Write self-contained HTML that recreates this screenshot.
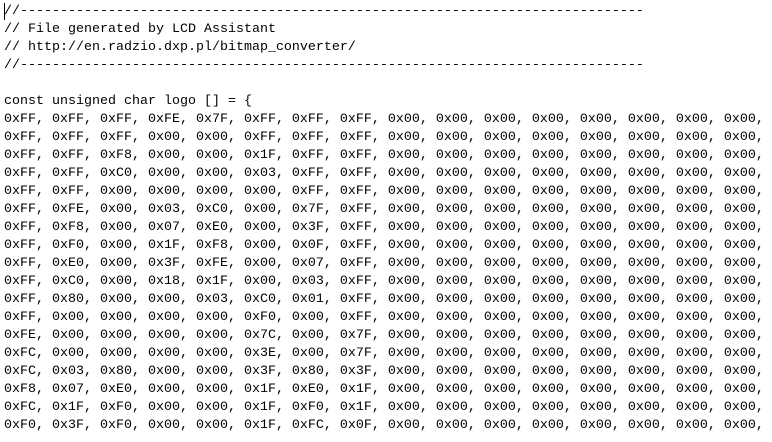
<!DOCTYPE html>
<html><head><meta charset="utf-8"><style>
html,body{margin:0;padding:0;background:#fff;width:772px;height:442px;overflow:hidden}
pre{margin:0;position:absolute;left:4px;top:3px;font-family:"Liberation Mono",monospace;font-size:13.33px;line-height:18px;color:#000}
.cur{position:absolute;left:4px;top:3px;width:1px;height:17px;background:#000}
</style></head><body>
<div class="cur"></div>
<pre>//------------------------------------------------------------------------------
// File generated by LCD Assistant
// http://en.radzio.dxp.pl/bitmap_converter/
//------------------------------------------------------------------------------

const unsigned char logo [] = {
0xFF, 0xFF, 0xFF, 0xFE, 0x7F, 0xFF, 0xFF, 0xFF, 0x00, 0x00, 0x00, 0x00, 0x00, 0x00, 0x00, 0x00,
0xFF, 0xFF, 0xFF, 0x00, 0x00, 0xFF, 0xFF, 0xFF, 0x00, 0x00, 0x00, 0x00, 0x00, 0x00, 0x00, 0x00,
0xFF, 0xFF, 0xF8, 0x00, 0x00, 0x1F, 0xFF, 0xFF, 0x00, 0x00, 0x00, 0x00, 0x00, 0x00, 0x00, 0x00,
0xFF, 0xFF, 0xC0, 0x00, 0x00, 0x03, 0xFF, 0xFF, 0x00, 0x00, 0x00, 0x00, 0x00, 0x00, 0x00, 0x00,
0xFF, 0xFF, 0x00, 0x00, 0x00, 0x00, 0xFF, 0xFF, 0x00, 0x00, 0x00, 0x00, 0x00, 0x00, 0x00, 0x00,
0xFF, 0xFE, 0x00, 0x03, 0xC0, 0x00, 0x7F, 0xFF, 0x00, 0x00, 0x00, 0x00, 0x00, 0x00, 0x00, 0x00,
0xFF, 0xF8, 0x00, 0x07, 0xE0, 0x00, 0x3F, 0xFF, 0x00, 0x00, 0x00, 0x00, 0x00, 0x00, 0x00, 0x00,
0xFF, 0xF0, 0x00, 0x1F, 0xF8, 0x00, 0x0F, 0xFF, 0x00, 0x00, 0x00, 0x00, 0x00, 0x00, 0x00, 0x00,
0xFF, 0xE0, 0x00, 0x3F, 0xFE, 0x00, 0x07, 0xFF, 0x00, 0x00, 0x00, 0x00, 0x00, 0x00, 0x00, 0x00,
0xFF, 0xC0, 0x00, 0x18, 0x1F, 0x00, 0x03, 0xFF, 0x00, 0x00, 0x00, 0x00, 0x00, 0x00, 0x00, 0x00,
0xFF, 0x80, 0x00, 0x00, 0x03, 0xC0, 0x01, 0xFF, 0x00, 0x00, 0x00, 0x00, 0x00, 0x00, 0x00, 0x00,
0xFF, 0x00, 0x00, 0x00, 0x00, 0xF0, 0x00, 0xFF, 0x00, 0x00, 0x00, 0x00, 0x00, 0x00, 0x00, 0x00,
0xFE, 0x00, 0x00, 0x00, 0x00, 0x7C, 0x00, 0x7F, 0x00, 0x00, 0x00, 0x00, 0x00, 0x00, 0x00, 0x00,
0xFC, 0x00, 0x00, 0x00, 0x00, 0x3E, 0x00, 0x7F, 0x00, 0x00, 0x00, 0x00, 0x00, 0x00, 0x00, 0x00,
0xFC, 0x03, 0x80, 0x00, 0x00, 0x3F, 0x80, 0x3F, 0x00, 0x00, 0x00, 0x00, 0x00, 0x00, 0x00, 0x00,
0xF8, 0x07, 0xE0, 0x00, 0x00, 0x1F, 0xE0, 0x1F, 0x00, 0x00, 0x00, 0x00, 0x00, 0x00, 0x00, 0x00,
0xFC, 0x1F, 0xF0, 0x00, 0x00, 0x1F, 0xF0, 0x1F, 0x00, 0x00, 0x00, 0x00, 0x00, 0x00, 0x00, 0x00,
0xF0, 0x3F, 0xF0, 0x00, 0x00, 0x1F, 0xFC, 0x0F, 0x00, 0x00, 0x00, 0x00, 0x00, 0x00, 0x00, 0x00,</pre>
</body></html>
